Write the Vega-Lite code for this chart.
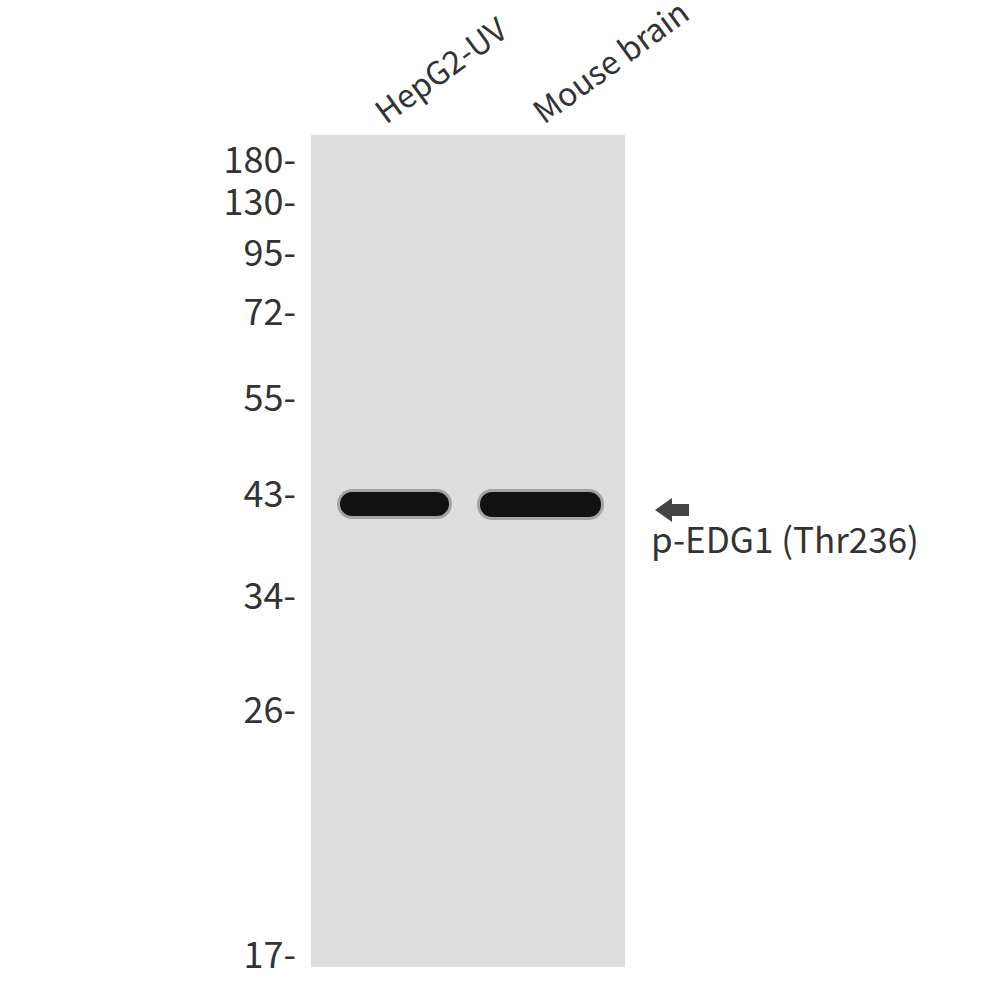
{
  "$schema": "https://vega.github.io/schema/vega-lite/v6.json",
  "width": 1000,
  "height": 1000,
  "padding": 0,
  "autosize": {"type": "none"},
  "background": "white",
  "view": {"stroke": null},
  "config": {"font": "Noto Sans CJK SC"},
  "datasets": {
    "gel": [{"x": 311, "x2": 625, "y": 135, "y2": 967}],
    "bands": [
      {"lane": "HepG2-UV", "x": 340, "x2": 449, "y": 492, "y2": 516},
      {"lane": "Mouse brain", "x": 480, "x2": 601, "y": 492, "y2": 517}
    ],
    "markers": [
      {"label": "180-", "y": 160},
      {"label": "130-", "y": 202},
      {"label": "95-", "y": 253},
      {"label": "72-", "y": 312},
      {"label": "55-", "y": 398},
      {"label": "43-", "y": 494},
      {"label": "34-", "y": 596},
      {"label": "26-", "y": 710},
      {"label": "17-", "y": 955}
    ],
    "lanes": [
      {"label": "HepG2-UV", "x": 386, "y": 125},
      {"label": "Mouse brain", "x": 544, "y": 125}
    ],
    "target": [{"label": "p-EDG1 (Thr236)", "x": 651, "y": 553, "ax": 672, "ay": 510}]
  },
  "layer": [
    {
      "data": {"name": "gel"},
      "mark": {"type": "rect", "fill": "#dddddd"},
      "encoding": {
        "x": {"field": "x", "type": "quantitative", "scale": {"domain": [0, 1000]}, "axis": null},
        "x2": {"field": "x2"},
        "y": {"field": "y", "type": "quantitative", "scale": {"domain": [0, 1000], "reverse": true}, "axis": null},
        "y2": {"field": "y2"}
      }
    },
    {
      "data": {"name": "bands"},
      "mark": {"type": "rect", "fill": "#222222", "opacity": 0.3, "cornerRadius": 15, "xOffset": -3, "x2Offset": 3, "yOffset": -3, "y2Offset": 3},
      "encoding": {
        "x": {"field": "x", "type": "quantitative"},
        "x2": {"field": "x2"},
        "y": {"field": "y", "type": "quantitative"},
        "y2": {"field": "y2"}
      }
    },
    {
      "data": {"name": "bands"},
      "mark": {"type": "rect", "fill": "#111111", "cornerRadius": 12},
      "encoding": {
        "x": {"field": "x", "type": "quantitative"},
        "x2": {"field": "x2"},
        "y": {"field": "y", "type": "quantitative"},
        "y2": {"field": "y2"}
      }
    },
    {
      "data": {"name": "markers"},
      "mark": {"type": "text", "align": "right", "baseline": "middle", "fontSize": 36, "color": "#333333", "dy": 2},
      "encoding": {
        "x": {"datum": 296, "type": "quantitative"},
        "y": {"field": "y", "type": "quantitative"},
        "text": {"field": "label"}
      }
    },
    {
      "data": {"name": "lanes"},
      "mark": {"type": "text", "align": "left", "baseline": "alphabetic", "fontSize": 32, "angle": 324, "color": "#333333"},
      "encoding": {
        "x": {"field": "x", "type": "quantitative"},
        "y": {"field": "y", "type": "quantitative"},
        "text": {"field": "label"}
      }
    },
    {
      "data": {"name": "target"},
      "mark": {"type": "text", "align": "left", "baseline": "alphabetic", "fontSize": 35, "color": "#333333"},
      "encoding": {
        "x": {"field": "x", "type": "quantitative"},
        "y": {"field": "y", "type": "quantitative"},
        "text": {"field": "label"}
      }
    },
    {
      "data": {"name": "target"},
      "mark": {"type": "point", "shape": "M-1,0L0,-0.7L0,-0.35L1,-0.35L1,0.35L0,0.35L0,0.7Z", "size": 1156, "filled": true, "fill": "#444444", "opacity": 1, "strokeWidth": 0},
      "encoding": {
        "x": {"field": "ax", "type": "quantitative"},
        "y": {"field": "ay", "type": "quantitative"}
      }
    }
  ]
}
